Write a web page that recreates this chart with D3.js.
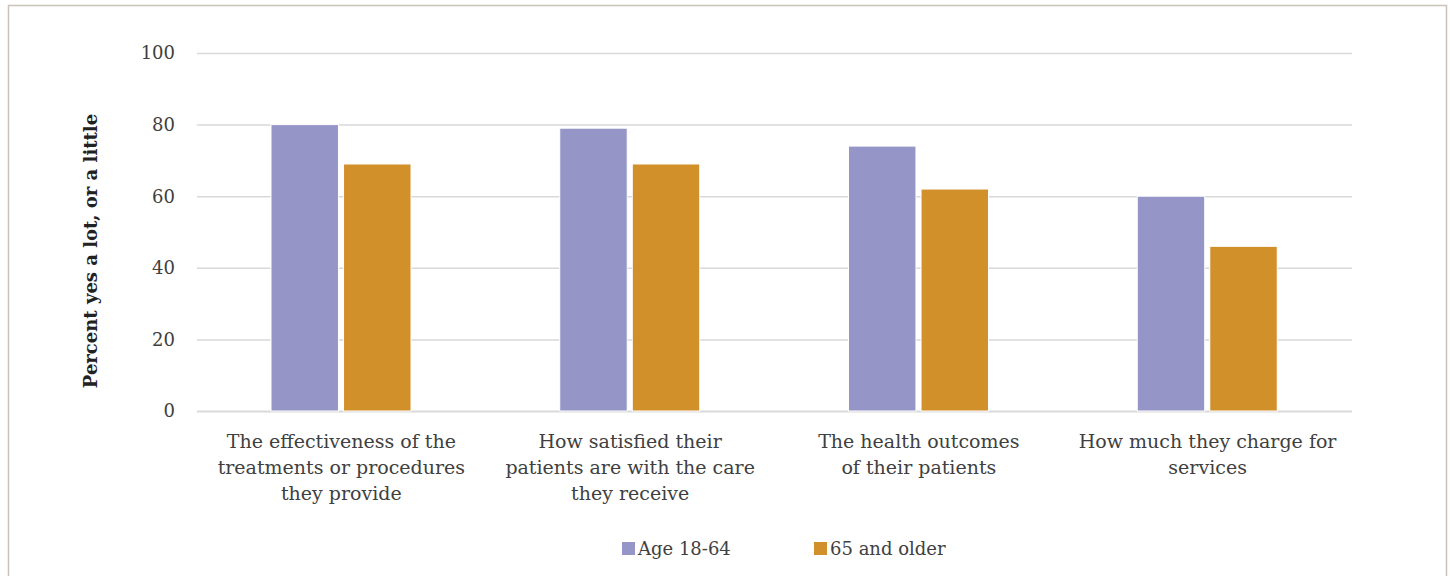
<!DOCTYPE html>
<html>
<head>
<meta charset="utf-8">
<script src="https://cdn.jsdelivr.net/npm/d3@7"></script>
<style>
  html, body { margin: 0; padding: 0; background: #fff; }
  svg text { font-family: "DejaVu Serif", serif; fill: #404040; }
</style>
</head>
<body>
<div id="chart"></div>
<script>
// chart values
const categories = [
    ["The effectiveness of the", "treatments or procedures", "they provide"],
    ["How satisfied their", "patients are with the care", "they receive"],
    ["The health outcomes", "of their patients"],
    ["How much they charge for", "services"]
];
const seriesNames = ["Age 18-64", "65 and older"];
const age1864 = [80, 79, 74, 60];
const age65plus = [69, 69, 62, 46];
const yTicks = [0, 20, 40, 60, 80, 100];
const colors = ["#9595c8", "#d2902a"];

const W = 1450, H = 576;
const margin = { top: 53, right: 98, bottom: 165, left: 197 };
const width = W - margin.left - margin.right;
const height = H - margin.top - margin.bottom;

const svg = d3.select("#chart").append("svg")
    .attr("width", W)
    .attr("height", H);

// outer frame
svg.append("rect")
    .attr("x", 8.5).attr("y", 5.5)
    .attr("width", 1438).attr("height", 600)
    .attr("fill", "none")
    .attr("stroke", "#cbc3b9")
    .attr("stroke-width", 1.5);

const g = svg.append("g").attr("transform", `translate(${margin.left},${margin.top})`);

const idx = d3.range(categories.length);
const x = d3.scaleBand().domain(idx).range([0, width]).padding(0);
const x1 = d3.scaleBand().domain([0, 1]).range([74, 214]).paddingInner(0.07).paddingOuter(0);
const y = d3.scaleLinear().domain([0, 100]).range([height, 0]);

// gridlines
g.selectAll(".grid").data(yTicks).enter().append("line")
    .attr("x1", 0).attr("x2", width)
    .attr("y1", d => y(d) + 0.5).attr("y2", d => y(d) + 0.5)
    .attr("stroke", "#d9d9d9")
    .attr("stroke-width", d => d === 0 ? 2 : 1.5);

// y tick labels
g.selectAll(".ytick").data(yTicks).enter().append("text")
    .attr("x", -22).attr("y", d => y(d))
    .attr("dy", "0.35em")
    .attr("text-anchor", "end")
    .style("font-size", "18px")
    .text(d => d);

// bars
const series = [age1864, age65plus];
series.forEach((vals, s) => {
    g.selectAll(".bar" + s).data(vals).enter().append("rect")
        .attr("x", (d, i) => x(i) + x1(s))
        .attr("y", d => y(d))
        .attr("width", x1.bandwidth())
        .attr("height", d => height - y(d))
        .attr("fill", colors[s])
        .attr("stroke", "#fff")
        .attr("stroke-width", 1);
});

// category labels
categories.forEach((lines, i) => {
    const t = g.append("text")
        .attr("text-anchor", "middle")
        .attr("transform", `translate(${x(i) + x.bandwidth() / 2},${height + 37})`)
        .style("font-size", "19px");
    lines.forEach((ln, k) => {
        t.append("tspan").attr("x", 0).attr("y", k * 26).text(ln);
    });
});

// y axis title
svg.append("text")
    .attr("transform", `translate(97,251) rotate(-90)`)
    .attr("text-anchor", "middle")
    .style("font-size", "18px")
    .style("font-weight", "bold")
    .style("fill", "#222")
    .text("Percent yes a lot, or a little");

// legend
const legendX = [622, 814];
seriesNames.forEach((name, s) => {
    svg.append("rect")
        .attr("x", legendX[s]).attr("y", 542)
        .attr("width", 13).attr("height", 13)
        .attr("fill", colors[s]);
    svg.append("text")
        .attr("x", legendX[s] + 16).attr("y", 549)
        .attr("dy", "0.35em")
        .style("font-size", "18px")
        .text(name);
});
</script>
</body>
</html>
